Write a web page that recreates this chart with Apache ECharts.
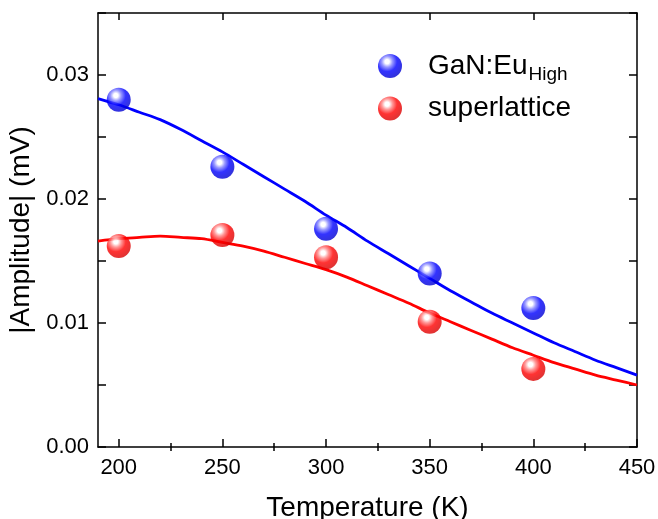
<!DOCTYPE html>
<html>
<head>
<meta charset="utf-8">
<script src="https://cdn.jsdelivr.net/npm/echarts@6/dist/echarts.min.js"></script>
<style>
html,body{margin:0;padding:0;background:#fff;}
#chart{width:658px;height:519px;}
</style>
</head>
<body>
<div id="chart"></div>
<script>
// Measured data points
var temps = [200, 250, 300, 350, 400];
var ganEuHigh = [0.0280, 0.0226, 0.0176, 0.0140, 0.0112];
var superlattice = [0.0162, 0.0171, 0.0153, 0.0101, 0.0063];

// Fit curves
var fitTemps = [190,200,210,220,230,240,250,260,270,280,290,300,310,320,330,340,350,360,370,380,390,400,410,420,430,440,450];
var fitGaN = [0.0281,0.0276,0.0270,0.0264,0.0256,0.0247,0.0238,0.0228,0.0218,0.0208,0.0198,0.0187,0.0177,0.0166,0.0156,0.0146,0.0136,0.0126,0.0117,0.0108,0.0100,0.0092,0.0084,0.0077,0.0070,0.0064,0.0058];
var fitSL = [0.0166,0.0168,0.0169,0.0170,0.0169,0.0168,0.0165,0.0162,0.0158,0.0153,0.0148,0.0143,0.0137,0.0130,0.0123,0.0116,0.0108,0.0101,0.0094,0.0087,0.0080,0.0074,0.0068,0.0063,0.0058,0.0054,0.0050];

var xMajorTicks = [200, 250, 300, 350, 400, 450];
var xMinorTicks = [225, 275, 325, 375, 425];
var seriesNames = ['GaN:Eu_High', 'superlattice'];

function zip(xs, ys){ return xs.map(function(x,i){ return [x, ys[i]]; }); }

function sphere(light, main, dark){
  return {
    type: 'radial', x: 0.38, y: 0.32, r: 0.75,
    colorStops: [
      {offset: 0, color: '#ffffff'},
      {offset: 0.12, color: '#ffffff'},
      {offset: 0.3, color: light},
      {offset: 0.55, color: main},
      {offset: 1, color: dark}
    ]
  };
}

var FONT = 'Liberation Sans, Arial, sans-serif';
var chart = echarts.init(document.getElementById('chart'));
var axisFont = {fontFamily: FONT, fontSize: 22, color: '#000'};
var lineBlack = {color: '#000', width: 1.5};

chart.setOption({
  animation: false,
  backgroundColor: '#fff',
  grid: {left: 98, right: 21, top: 13, bottom: 72, show: false, containLabel: false, outerBoundsMode: 'none'},
  legend: {
    orient: 'vertical',
    left: 373,
    top: 47,
    itemWidth: 24,
    itemHeight: 24,
    itemGap: 10,
    icon: 'circle',
    data: seriesNames,
    textStyle: {fontFamily: FONT, fontSize: 28, color: '#000', padding: [0,0,0,21],
      rich: {
        a: {fontFamily: FONT, fontSize: 28, color: '#000'},
        b: {fontFamily: FONT, fontSize: 19, color: '#000', padding: [18,0,0,1]}
      }
    },
    formatter: function(name){
      if (name === 'GaN:Eu_High') return '{a|GaN:Eu}{b|High}';
      return '{a|' + name + '}';
    }
  },
  xAxis: [{
    type: 'value', min: 190, max: 450,
    name: 'Temperature (K)', nameLocation: 'middle', nameGap: 47,
    nameTextStyle: {fontFamily: FONT, fontSize: 28, color: '#000'},
    axisLine: {show: true, onZero: false, lineStyle: lineBlack},
    axisTick: {show: true, inside: true, length: 8, lineStyle: lineBlack, customValues: xMajorTicks},
    axisLabel: Object.assign({margin: 10, customValues: xMajorTicks}, axisFont),
    splitLine: {show: false}
  }, {
    type: 'value', min: 190, max: 450, position: 'top',
    axisLine: {show: true, onZero: false, lineStyle: lineBlack},
    axisTick: {show: true, inside: true, length: 7, lineStyle: lineBlack, customValues: xMajorTicks},
    axisLabel: {show: false},
    splitLine: {show: false}
  }, {
    type: 'value', min: 190, max: 450, position: 'bottom',
    axisLine: {show: false},
    axisTick: {show: true, inside: true, length: 4, lineStyle: lineBlack, customValues: xMinorTicks},
    axisLabel: {show: false, customValues: xMinorTicks},
    splitLine: {show: false}
  }, {
    type: 'value', min: 190, max: 450, position: 'top',
    axisLine: {show: false},
    axisTick: {show: true, inside: true, length: 4, lineStyle: lineBlack, customValues: xMinorTicks},
    axisLabel: {show: false, customValues: xMinorTicks},
    splitLine: {show: false}
  }],
  yAxis: [{
    type: 'value', min: 0, max: 0.035, interval: 0.005,
    name: '|Amplitude| (mV)', nameLocation: 'middle', nameGap: 54,
    nameTextStyle: {fontFamily: FONT, fontSize: 28, color: '#000'},
    axisLine: {show: true, onZero: false, lineStyle: lineBlack},
    axisTick: {show: true, inside: true, length: 8, lineStyle: lineBlack},
    axisLabel: Object.assign({margin: 9, formatter: function(v){
      var r = Math.round(v*1000);
      if (r % 10 !== 0) return '';
      return (r/1000).toFixed(2);
    }}, axisFont),
    splitLine: {show: false}
  }, {
    type: 'value', min: 0, max: 0.035, interval: 0.005, position: 'right',
    axisLine: {show: true, onZero: false, lineStyle: lineBlack},
    axisTick: {show: true, inside: true, length: 8, lineStyle: lineBlack},
    axisLabel: {show: false},
    splitLine: {show: false}
  }],
  series: [{
    name: 'GaN:Eu_High fit', type: 'line', data: zip(fitTemps, fitGaN), smooth: 0.3, showSymbol: false,
    lineStyle: {color: '#0000ff', width: 2.8}, z: 2, silent: true
  }, {
    name: 'superlattice fit', type: 'line', data: zip(fitTemps, fitSL), smooth: 0.3, showSymbol: false,
    lineStyle: {color: '#ff0000', width: 2.8}, z: 2, silent: true
  }, {
    name: 'GaN:Eu_High', type: 'scatter', data: zip(temps, ganEuHigh), symbol: 'circle', symbolSize: 24,
    itemStyle: {color: sphere('#7f7fff', '#0000ff', '#0000c8')}, z: 5
  }, {
    name: 'superlattice', type: 'scatter', data: zip(temps, superlattice), symbol: 'circle', symbolSize: 24,
    itemStyle: {color: sphere('#ff8080', '#ff0000', '#d00000')}, z: 5
  }]
});
</script>
</body>
</html>
